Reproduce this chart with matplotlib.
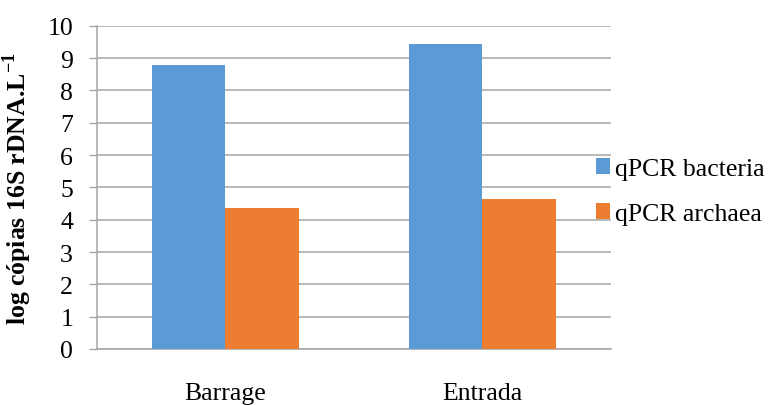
import matplotlib
matplotlib.use("Agg")
import matplotlib.pyplot as plt
import numpy as np
from matplotlib.patches import Patch

categories = ["Barrage", "Entrada"]
bacteria = [8.78, 9.42]
archaea = [4.36, 4.65]
series_names = ["qPCR bacteria", "qPCR archaea"]
colors = ["#5B9BD5", "#ED7D31"]
yticks = list(range(0, 11))

plt.rcParams["font.family"] = ["Liberation Serif", "DejaVu Serif"]
plt.rcParams["mathtext.fontset"] = "custom"
plt.rcParams["mathtext.rm"] = "Liberation Serif"
plt.rcParams["mathtext.bf"] = "Liberation Serif:bold"

FS = 18.5
GRID = "#A6A6A6"

fig = plt.figure(figsize=(7.71, 4.06), dpi=100)
ax = fig.add_axes([96.7 / 771, 56 / 406, 514 / 771, (350 - 26.7) / 406])

x = np.arange(len(categories))
w = 0.286
ax.bar(x - w / 2, bacteria, width=w, color=colors[0], zorder=3)
ax.bar(x + w / 2, archaea, width=w, color=colors[1], zorder=3)

ax.set_xlim(-0.5, len(categories) - 0.5)
ax.set_ylim(0, 10)
ax.set_yticks(yticks)
ax.set_xticks(x)
ax.set_xticklabels(categories, fontsize=FS)
ax.tick_params(axis="x", length=0, pad=24)
ax.tick_params(axis="y", length=6, width=1, color=GRID, pad=11, labelsize=FS)

ax.yaxis.grid(True, color=GRID, linewidth=1.1, zorder=0)
ax.set_axisbelow(True)
for s in ["top", "right"]:
    ax.spines[s].set_visible(False)
for s in ["left", "bottom"]:
    ax.spines[s].set_color(GRID)
    ax.spines[s].set_linewidth(1.1)

ax.set_ylabel(r"log cópias 16S rDNA.L$^{\mathbf{-1}}$", fontsize=FS, fontweight="bold")
ax.yaxis.set_label_coords(-0.122, 0.5)

handles = [Patch(facecolor=c, edgecolor="none") for c in colors]
fig.legend(handles, series_names, loc="center left",
           bbox_to_anchor=(596 / 771, 1 - 192.5 / 406),
           frameon=False, fontsize=FS, borderpad=0, borderaxespad=0,
           handlelength=0.55, handleheight=0.55, handletextpad=0.2,
           labelspacing=0.9)

fig.savefig("out.png", dpi=100)
